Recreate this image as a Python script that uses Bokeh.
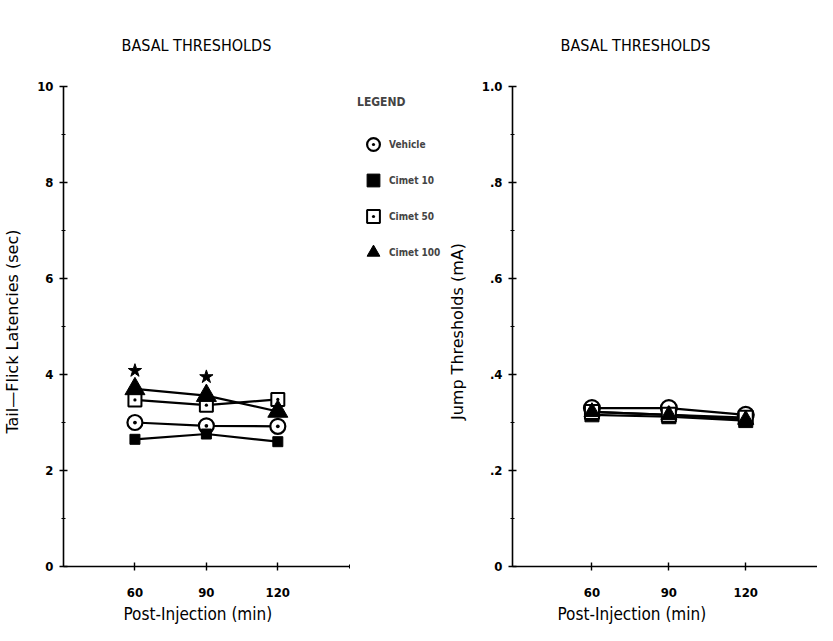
from bokeh.plotting import figure
from bokeh.layouts import row
from bokeh.models import (FixedTicker, Legend, LegendItem, CustomJSTickFormatter,
                          Range1d, Title)
from bokeh.embed import file_html
from bokeh.resources import INLINE

# ---- data ----
minutes = [60, 90, 120]
x_ticks = [60, 90, 120]
series_names = ["Vehicle", "Cimet 10", "Cimet 50", "Cimet 100"]

tail_vehicle = [3.0, 2.93, 2.92]
tail_cimet10 = [2.65, 2.76, 2.60]
tail_cimet50 = [3.47, 3.36, 3.48]
tail_cimet100 = [3.70, 3.56, 3.23]
star_minutes = [60, 90]
star_values = [4.08, 3.95]

jump_vehicle = [0.330, 0.330, 0.316]
jump_cimet10 = [0.316, 0.312, 0.304]
jump_cimet50 = [0.322, 0.316, 0.310]
jump_cimet100 = [0.322, 0.316, 0.306]

left_y_ticks = [0, 2, 4, 6, 8, 10]
right_y_ticks = [0, 0.2, 0.4, 0.6, 0.8, 1.0]

NARROW = "DejaVu Sans Condensed, Liberation Sans, sans-serif"
WIDE = "DejaVu Sans"


def style_axes(p, title_offset, xlabel_offset):
    for ax in (p.xaxis[0], p.yaxis[0]):
        ax.axis_line_width = 1.6
        ax.axis_line_color = "black"
        ax.major_tick_in = 4
        ax.major_tick_out = 4
        ax.major_tick_line_width = 1.4
        ax.minor_tick_in = 2
        ax.minor_tick_out = 2
        ax.major_label_text_font = NARROW
        ax.major_label_text_font_style = "bold"
        ax.major_label_text_font_size = "13px"
        ax.major_label_text_color = "black"
        ax.axis_label_text_font_style = "normal"
        ax.axis_label_text_color = "black"
    p.xaxis[0].major_label_standoff = 17
    p.xaxis[0].ticker = FixedTicker(ticks=x_ticks, minor_ticks=[150])
    p.yaxis[0].axis_label_text_font = WIDE
    p.yaxis[0].axis_label_text_font_size = "16px"
    p.yaxis[0].axis_label_standoff = 12
    p.yaxis[0].major_label_standoff = 6
    p.xgrid.visible = False
    p.ygrid.visible = False
    p.outline_line_color = None
    p.title.text = "BASAL THRESHOLDS"
    p.title.align = "left"
    p.title.offset = title_offset
    p.title.text_font = NARROW
    p.title.text_font_style = "normal"
    p.title.text_font_size = "16px"
    p.title.text_color = "black"
    p.title.standoff = 64
    xlabel = Title(text="Post-Injection (min)", align="left", offset=xlabel_offset,
                   text_font=NARROW, text_font_size="17px",
                   text_font_style="normal", text_color="black", standoff=4)
    p.add_layout(xlabel, "below")


def draw_series(p, xs, ys_list, sizes):
    for ys in ys_list:
        p.line(xs, ys, line_color="black", line_width=2.2)
    m0 = p.scatter(xs, ys_list[0], marker="circle_dot", size=sizes[0],
                   fill_color="white", line_color="black", line_width=2.2)
    m1 = p.scatter(xs, ys_list[1], marker="square", size=sizes[1],
                   fill_color="black", line_color="black")
    m2 = p.scatter(xs, ys_list[2], marker="square_dot", size=sizes[2],
                   fill_color="white", line_color="black", line_width=2)
    m3 = p.scatter(xs, ys_list[3], marker="triangle", size=sizes[3],
                   fill_color="black", line_color="black")
    return [m0, m1, m2, m3]


# ---- left figure (frame extends right to host the legend) ----
p1 = figure(width=444, height=625, output_backend="svg",
            toolbar_location=None, x_range=Range1d(30, 190),
            y_range=Range1d(0, 10), min_border_left=51, min_border_right=0,
            min_border_top=86, min_border_bottom=59)
style_axes(p1, 58, 60)
p1.xaxis[0].bounds = (30, 150)
p1.yaxis[0].axis_label = "Tail\u2014Flick  Latencies  (sec)"
p1.yaxis[0].ticker = FixedTicker(ticks=left_y_ticks, minor_ticks=[1, 3, 5, 7, 9])

marks1 = draw_series(p1, minutes,
                     [tail_vehicle, tail_cimet10, tail_cimet50, tail_cimet100],
                     [15, 10, 13, 20])
p1.scatter(star_minutes, star_values, marker="star", size=14,
           fill_color="black", line_color="black")

legend = Legend(
    items=[LegendItem(label=n, renderers=[r]) for n, r in zip(series_names, marks1)],
    title="LEGEND", location=(290, 294), orientation="vertical",
    border_line_alpha=0, background_fill_alpha=0,
    margin=0, padding=4, spacing=4, glyph_width=32, glyph_height=32,
    label_height=32, title_standoff=19, label_standoff=0,
)
legend.title_text_font = NARROW
legend.title_text_font_style = "bold"
legend.title_text_font_size = "12px"
legend.label_text_font = NARROW
legend.label_text_font_style = "bold"
legend.label_text_font_size = "10px"
p1.add_layout(legend)

# ---- right figure ----
p2 = figure(width=373, height=625, output_backend="svg",
            toolbar_location=None, x_range=Range1d(29, 148),
            y_range=Range1d(0, 1.0), min_border_left=52, min_border_right=0,
            min_border_top=86, min_border_bottom=59)
style_axes(p2, 48, 45)
p2.yaxis[0].axis_label = "Jump  Thresholds  (mA)"
p2.yaxis[0].ticker = FixedTicker(ticks=right_y_ticks,
                                 minor_ticks=[0.1, 0.3, 0.5, 0.7, 0.9])
p2.yaxis[0].formatter = CustomJSTickFormatter(code="""
    if (Math.abs(tick) < 1e-9) { return "0"; }
    if (Math.abs(tick - 1) < 1e-9) { return "1.0"; }
    return tick.toFixed(1).replace(/^0/, "");
""")
draw_series(p2, minutes,
            [jump_vehicle, jump_cimet10, jump_cimet50, jump_cimet100],
            [16, 14, 14, 16])

layout = row(p1, p2)
open("out.html", "w").write(file_html(layout, INLINE))
